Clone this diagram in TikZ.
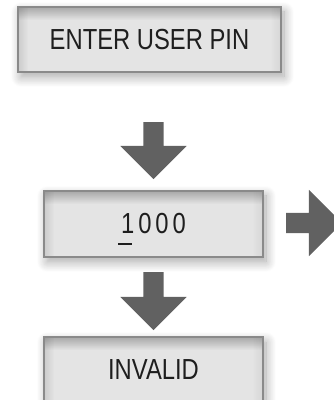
\documentclass[tikz,border=0pt]{standalone}
\usepackage{fontspec}
\setmainfont{Liberation Sans}[FakeStretch=0.82]
\usetikzlibrary{shapes.arrows,shadows.blur}
\definecolor{boxfill}{HTML}{E4E4E4}
\definecolor{boxline}{HTML}{8A8A8A}
\definecolor{arrowgray}{HTML}{616161}
\definecolor{txt}{HTML}{1E1E1E}
\tikzset{
  panel/.style={draw=boxline, line width=1.2pt, fill=boxfill, inner sep=0pt,
    text=txt, font=\fontsize{29}{29}\selectfont,
    blur shadow={shadow xshift=3pt, shadow yshift=-5pt, shadow blur radius=10pt,
      shadow opacity=35, shadow blur steps=12},
    path picture={
      \foreach \i [evaluate=\i as \o using 0.02*(14-\i)] in {1,...,13}{
        \draw[black, line width=1pt, opacity=\o]
          ([yshift=-\i pt+0.5pt]path picture bounding box.north west) --
          ([yshift=-\i pt+0.5pt]path picture bounding box.north east);
      }
      \foreach \i [evaluate=\i as \o using 0.011*(11-\i)] in {1,...,10}{
        \draw[black, line width=1pt, opacity=\o]
          ([xshift=\i pt-0.5pt]path picture bounding box.north west) --
          ([xshift=\i pt-0.5pt]path picture bounding box.south west);
        \draw[black, line width=1pt, opacity=\o*0.5]
          ([xshift=-\i pt+0.5pt]path picture bounding box.north east) --
          ([xshift=-\i pt+0.5pt]path picture bounding box.south east);
      }
    }},
  blockarrow/.style={single arrow, fill=arrowgray, draw=none, inner xsep=0pt,
    inner ysep=10pt, single arrow head extend=23pt, single arrow tip angle=90,
    minimum width=66pt, minimum height=#1}
}
\begin{document}
\begin{tikzpicture}[x=1pt,y=1pt]
\useasboundingbox (0,0) rectangle (334,400);
\node[panel, minimum width=263pt, minimum height=65pt] (enter) at (149.5,360.5) {ENTER USER PIN};
\node[blockarrow=57pt, rotate=-90] (a1) at (153.5,254.5) {};
\node[panel, minimum width=219pt, minimum height=66pt] (pin) at (153.5,176)
  {\smash{\makebox[0pt][l]{\hspace{-3pt}\rule[-11pt]{14pt}{2pt}}}1\hspace{4pt}0\hspace{4pt}0\hspace{4pt}0};
\node[blockarrow=56pt] (a2) at (309,177) {};
\node[blockarrow=58pt, rotate=-90] (a3) at (153.5,104) {};
\node[panel, minimum width=219pt, minimum height=66pt] (invalid) at (153.5,30) {INVALID};
\end{tikzpicture}
\end{document}
